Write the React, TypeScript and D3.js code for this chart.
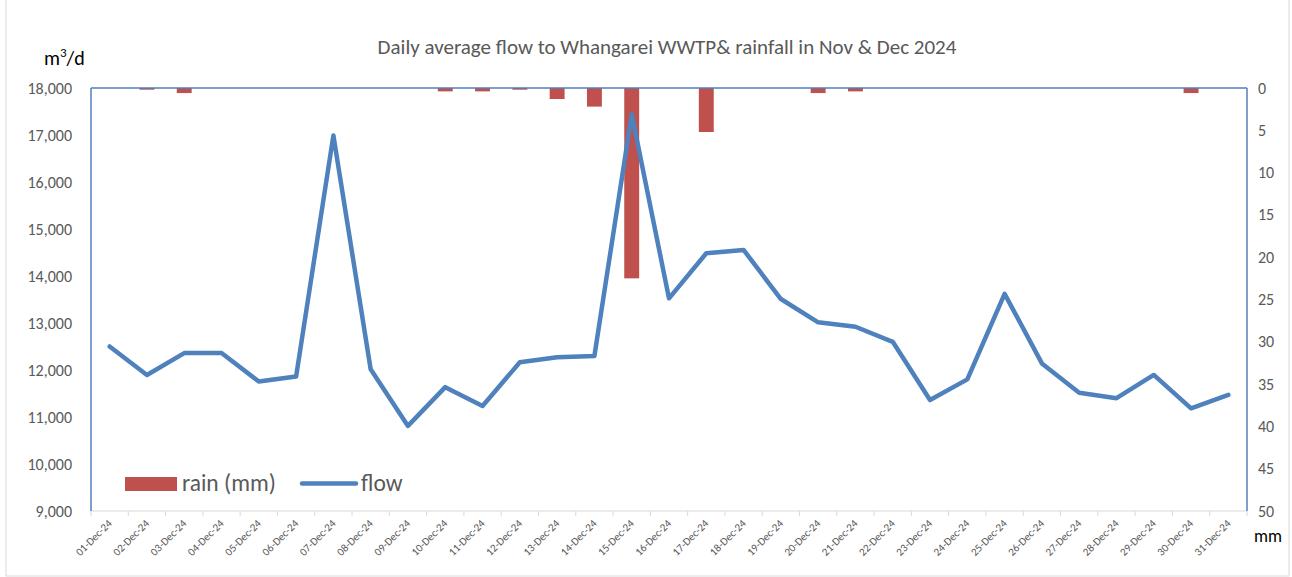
import React from "react";
import * as d3 from "d3";

const days: string[] = Array.from({ length: 31 }, (_, i) => `${String(i + 1).padStart(2, "0")}-Dec-24`);
const flow: number[] = [
  12500, 11895, 12360, 12360, 11755, 11860, 16990, 12015, 10810, 11635,
  11235, 12165, 12270, 12300, 17440, 13525, 14485, 14555, 13510, 13015,
  12920, 12600, 11360, 11800, 13620, 12140, 11515, 11400, 11895, 11185, 11470,
];
const rain: number[] = [
  0, 0.2, 0.6, 0, 0, 0, 0, 0, 0, 0.4,
  0.4, 0.2, 1.3, 2.2, 22.5, 0, 5.2, 0, 0, 0.6,
  0.4, 0, 0, 0, 0, 0, 0, 0, 0, 0.6, 0,
];
const leftTicks: number[] = [9000, 10000, 11000, 12000, 13000, 14000, 15000, 16000, 17000, 18000];
const rightTicks: number[] = [0, 5, 10, 15, 20, 25, 30, 35, 40, 45, 50];

const W = 1292, H = 577;
const L = 91, R = 1247, T = 88, B = 511;
const FONT = "Calibri, Carlito, 'Open Sans', 'Noto Sans', sans-serif";
const GREY = "#595959";

export default function App() {
  const x = d3.scaleBand<string>().domain(days).range([L, R]).paddingInner(0).paddingOuter(0);
  const yL = d3.scaleLinear().domain([9000, 18000]).range([B, T]);
  const yR = d3.scaleLinear().domain([0, 50]).range([T, B]);
  const bw = x.bandwidth() / 2.5;
  const line = d3.line<number>()
    .x((_, i) => (x(days[i]) as number) + x.bandwidth() / 2)
    .y((d) => yL(d));
  const fmt = d3.format(",");

  return (
    <svg width={W} height={H} style={{ position: "absolute", left: 0, top: 0, background: "#fff" }} fontFamily={FONT}>
      <rect x={6} y={-1} width={1283} height={577} fill="#fff" stroke="#d9d9d9" strokeWidth={1} />
      <text x={667} y={54} textAnchor="middle" fontSize={21} fill={GREY}>
        Daily average flow to Whangarei WWTP&amp; rainfall in Nov &amp; Dec 2024
      </text>
      <text x={44} y={65} fontSize={20} fill="#000">
        m<tspan dy={-8} fontSize={13}>3</tspan><tspan dy={8}>/d</tspan>
      </text>
      {/* bars */}
      {rain.map((r, i) =>
        r > 0 ? (
          <rect key={i} x={(x(days[i]) as number) + x.bandwidth() / 2 - bw / 2} y={yR(0)} width={bw}
            height={yR(r) - yR(0)} fill="#C0504D" />
        ) : null
      )}
      {/* frame */}
      <line x1={L} x2={R} y1={B} y2={B} stroke="#d9d9d9" strokeWidth={1} />
      {days.map((d, i) => (
        <line key={i} x1={x(d) as number} x2={x(d) as number} y1={B} y2={B + 5} stroke="#d9d9d9" />
      ))}
      <line x1={R} x2={R} y1={B} y2={B + 5} stroke="#d9d9d9" />
      <line x1={L} x2={L} y1={T} y2={B} stroke="#4F81BD" strokeWidth={1.5} />
      <line x1={R} x2={R} y1={T} y2={B} stroke="#4F81BD" strokeWidth={1.5} />
      <line x1={L} x2={R} y1={T} y2={T} stroke="#4F81BD" strokeWidth={1.5} />
      {/* line */}
      <path d={line(flow) || ""} fill="none" stroke="#4F81BD" strokeWidth={4.5} strokeLinejoin="round" strokeLinecap="round" />
      {/* left axis */}
      {leftTicks.map((t) => (
        <text key={t} x={72} y={yL(t) + 5.5} textAnchor="end" fontSize={16} fill={GREY}>{fmt(t)}</text>
      ))}
      {rightTicks.map((t) => (
        <text key={t} x={1258} y={yR(t) + 5.5} textAnchor="start" fontSize={16} fill={GREY}>{t}</text>
      ))}
      <text x={1254} y={542} fontSize={17.5} fill="#000">mm</text>
      {/* x labels */}
      {days.map((d) => {
        const cx = (x(d) as number) + x.bandwidth() / 2 + 3;
        return (
          <text key={d} transform={`translate(${cx},${B + 13}) rotate(-45)`} textAnchor="end" fontSize={11} fill={GREY}>{d}</text>
        );
      })}
      {/* legend */}
      <rect x={125} y={477} width={52} height={14} fill="#C0504D" />
      <text x={182} y={491} fontSize={23.5} fill={GREY}>rain (mm)</text>
      <line x1={302} x2={356} y1={483.5} y2={483.5} stroke="#4F81BD" strokeWidth={4.5} strokeLinecap="round" />
      <text x={361} y={491} fontSize={23.5} fill={GREY}>flow</text>
    </svg>
  );
}
